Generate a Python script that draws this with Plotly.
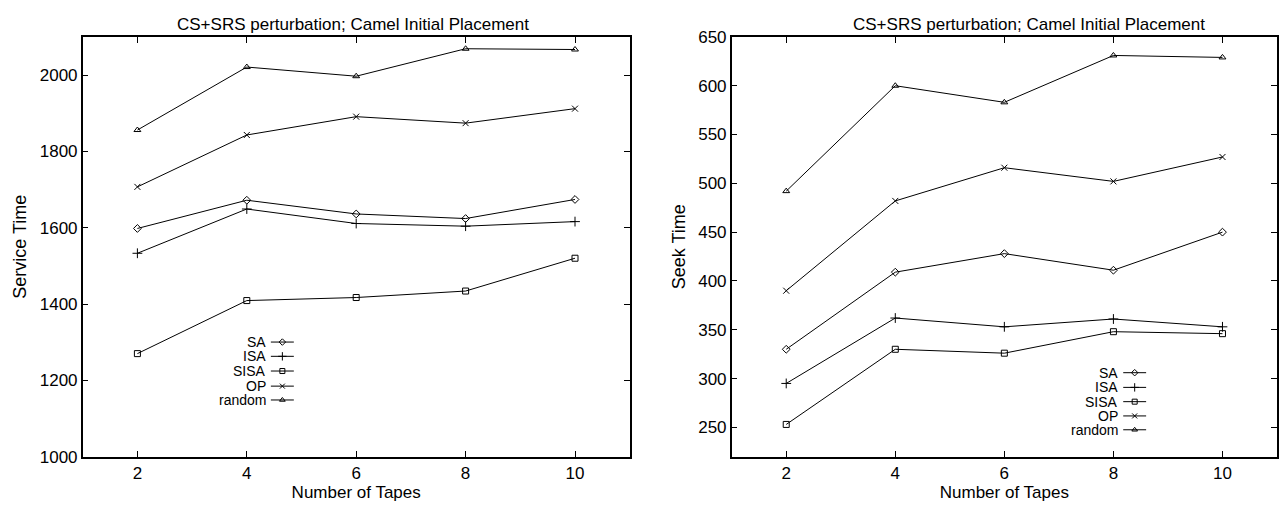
import plotly.graph_objects as go

# ---- data ----
tapes = [2, 4, 6, 8, 10]

service_sa = [1598, 1672, 1636, 1624, 1674]
service_isa = [1533, 1649, 1611, 1604, 1616]
service_sisa = [1270, 1409, 1417, 1434, 1520]
service_op = [1707, 1843, 1891, 1874, 1912]
service_random = [1856, 2021, 1997, 2069, 2067]

seek_sa = [330, 409, 428, 411, 450]
seek_isa = [295, 362, 353, 361, 353]
seek_sisa = [253, 330, 326, 348, 346]
seek_op = [390, 482, 516, 502, 527]
seek_random = [492, 600, 583, 631, 629]

series_names = ["SA", "ISA", "SISA", "OP", "random"]
symbols = ["diamond-open", "cross-thin-open", "square-open", "x-thin-open", "triangle-up-open"]
marker_sizes = [6, 7, 6, 6, 6]

left_series = [service_sa, service_isa, service_sisa, service_op, service_random]
right_series = [seek_sa, seek_isa, seek_sisa, seek_op, seek_random]

FONT = "Liberation Sans, Arial, sans-serif"
W, H = 1282, 509

fig = go.Figure()

def add_panel(series, xa, ya):
    for name, vals, sym, ms in zip(series_names, series, symbols, marker_sizes):
        fig.add_trace(go.Scatter(
            x=tapes, y=vals, mode="lines+markers", name=name,
            xaxis=xa, yaxis=ya, showlegend=False,
            line=dict(color="black", width=1),
            marker=dict(symbol=sym, size=ms, color="black",
                        line=dict(color="black", width=1)),
        ))

add_panel(left_series, "x", "y")
add_panel(right_series, "x2", "y2")

# ---- keys (drawn on hidden overlay axes spanning each plot area, 0..1) ----
def add_key(xa, ya, text_right, line_x0, line_x1, rows):
    mid = (line_x0 + line_x1) / 2
    for name, sym, ms, ry in zip(series_names, symbols, marker_sizes, rows):
        fig.add_trace(go.Scatter(
            x=[line_x0, line_x1], y=[ry, ry], mode="lines",
            xaxis=xa, yaxis=ya, showlegend=False, hoverinfo="skip",
            line=dict(color="black", width=1)))
        fig.add_trace(go.Scatter(
            x=[mid], y=[ry], mode="markers",
            xaxis=xa, yaxis=ya, showlegend=False, hoverinfo="skip",
            marker=dict(symbol=sym, size=ms - 1, color="black",
                        line=dict(color="black", width=1))))
        fig.add_annotation(x=text_right, y=ry, xref=xa, yref=ya,
                           text=name, showarrow=False, xanchor="right",
                           yanchor="middle",
                           font=dict(family=FONT, size=14, color="black"))

add_key("x3", "y3", 0.339, 0.344, 0.386, [0.273, 0.239, 0.204, 0.168, 0.135])
add_key("x4", "y4", 0.712, 0.718, 0.760, [0.200, 0.165, 0.131, 0.097, 0.064])

# ---- layout ----
ytop = 1 - 29 / H
ybot = 1 - 465 / H
left_dom = [82.7 / W, 629.7 / W]
right_dom = [731.7 / W, 1277 / W]

axis_common = dict(
    showline=True, linecolor="black", linewidth=1.5, mirror="ticks",
    ticks="inside", ticklen=6, tickwidth=1, tickcolor="black",
    showgrid=False, zeroline=False,
    tickfont=dict(family=FONT, size=17, color="black"),
)

xtitle_font = dict(family=FONT, size=17, color="black")
ytitle_font = dict(family=FONT, size=18, color="black")

fig.update_layout(
    width=W, height=H,
    margin=dict(l=0, r=0, t=0, b=0),
    plot_bgcolor="white", paper_bgcolor="white",
    showlegend=False,
    xaxis=dict(domain=left_dom, range=[1, 11], tickvals=tapes, anchor="y",
               title=dict(text="Number of Tapes", standoff=3, font=xtitle_font),
               **axis_common),
    yaxis=dict(domain=[ybot, ytop], range=[1000, 2100], dtick=200, anchor="x",
               title=dict(text="Service Time", standoff=8, font=ytitle_font),
               **axis_common),
    xaxis2=dict(domain=right_dom, range=[1, 11], tickvals=tapes, anchor="y2",
                title=dict(text="Number of Tapes", standoff=3, font=xtitle_font),
                **axis_common),
    yaxis2=dict(domain=[ybot, ytop], range=[220, 650], dtick=50, anchor="x2",
                title=dict(text="Seek Time", standoff=8, font=ytitle_font),
                **axis_common),
    xaxis3=dict(overlaying="x", range=[0, 1], visible=False, anchor="y3"),
    yaxis3=dict(overlaying="y", range=[0, 1], visible=False, anchor="x3"),
    xaxis4=dict(overlaying="x2", range=[0, 1], visible=False, anchor="y4"),
    yaxis4=dict(overlaying="y2", range=[0, 1], visible=False, anchor="x4"),
)

title_text = "CS+SRS perturbation; Camel Initial Placement"
fig.add_annotation(x=353 / W, y=1 - 16 / H, xref="paper", yref="paper",
                   text=title_text, showarrow=False, xanchor="center",
                   yanchor="middle", font=dict(family=FONT, size=17, color="black"))
fig.add_annotation(x=1029 / W, y=1 - 16 / H, xref="paper", yref="paper",
                   text=title_text, showarrow=False, xanchor="center",
                   yanchor="middle", font=dict(family=FONT, size=17, color="black"))

fig.write_html(
    "out.html",
    config={"displayModeBar": False},
    post_script="document.body.style.margin='0';document.body.style.overflow='hidden';",
)
